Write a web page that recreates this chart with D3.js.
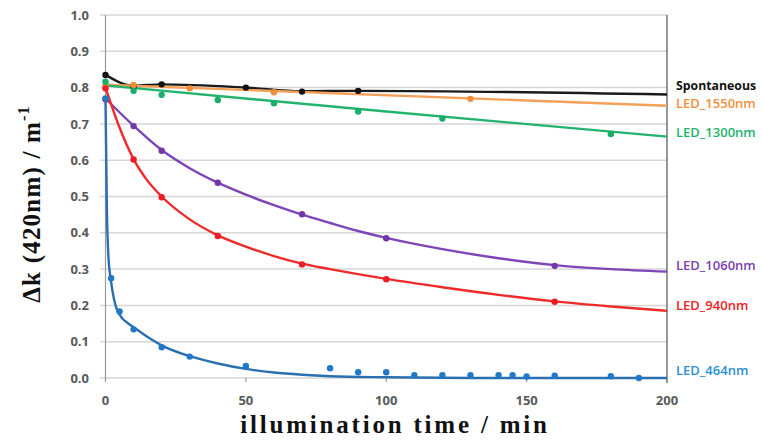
<!DOCTYPE html>
<html><head><meta charset="utf-8">
<script src="https://cdn.jsdelivr.net/npm/d3@7"></script>
<style>body{margin:0;background:#fff}svg{display:block}</style>
</head><body>
<svg id="c" width="763" height="441"></svg>
<script>
const xTicks = [0, 50, 100, 150, 200];
const yTicks = [0.0, 0.1, 0.2, 0.3, 0.4, 0.5, 0.6, 0.7, 0.8, 0.9, 1.0];

// measured points
const spontPts = [[0,0.835],[10,0.803],[20,0.809],[50,0.800],[70,0.789],[90,0.791]];
const led1550Pts = [[0,0.806],[10,0.807],[30,0.798],[60,0.787],[130,0.769]];
const led1300Pts = [[0,0.816],[10,0.791],[20,0.780],[40,0.766],[60,0.757],[90,0.734],[120,0.715],[180,0.672]];
const led1060Pts = [[0,0.768],[10,0.694],[20,0.626],[40,0.538],[70,0.451],[100,0.385],[160,0.309]];
const led940Pts = [[0,0.798],[10,0.602],[20,0.498],[40,0.391],[70,0.313],[100,0.272],[160,0.210]];
const led464Pts = [[0,0.770],[2,0.275],[5,0.183],[10,0.134],[20,0.085],[30,0.059],[50,0.033],[80,0.027],[90,0.016],[100,0.016],[110,0.008],[120,0.008],[130,0.008],[140,0.008],[145,0.008],[150,0.004],[160,0.006],[180,0.005],[190,0.0]];

// fitted curves
const spontFit = [[0,0.835],[10,0.805],[20,0.809],[50,0.800],[70,0.790],[90,0.791],[200,0.781]];
const led1550Fit = [[0,0.808],[200,0.750]];
const led1300Fit = [[0,0.806],[100,0.734],[200,0.665]];
const led1060Fit = [[0,0.770],[10,0.695],[20,0.628],[30,0.578],[40,0.538],[50,0.505],[60,0.476],[70,0.450],[80,0.427],[90,0.405],[100,0.386],[120,0.355],[140,0.330],[160,0.311],[180,0.300],[200,0.293]];
const led940Fit = [[0,0.800],[5,0.690],[10,0.603],[15,0.543],[20,0.500],[30,0.437],[40,0.393],[50,0.362],[60,0.336],[70,0.315],[80,0.300],[100,0.273],[120,0.250],[140,0.229],[160,0.211],[180,0.197],[200,0.185]];
const led464Fit = [[0,0.770],[0.5,0.46],[1,0.34],[2,0.265],[3,0.218],[4,0.190],[5,0.175],[6,0.164],[8,0.151],[10,0.140],[15,0.113],[20,0.090],[30,0.060],[40,0.040],[50,0.025],[60,0.015],[70,0.009],[80,0.005],[100,0.002],[130,0.0],[200,0.0]];

const seriesNames = ["Spontaneous","LED_1550nm","LED_1300nm","LED_1060nm","LED_940nm","LED_464nm"];
const seriesPts = [spontPts, led1550Pts, led1300Pts, led1060Pts, led940Pts, led464Pts];
const seriesFit = [spontFit, led1550Fit, led1300Fit, led1060Fit, led940Fit, led464Fit];
const ptColors = ["#111111","#ef8d3a","#1aae68","#7236a8","#ee1c25","#1f78c8"];
const lineColors = ["#1a1a1a","#f2a05a","#22b36e","#7d45b5","#ee2a2a","#2a6fb0"];
const labelColors = ["#111111","#f0913a","#1db36b","#7b3fb0","#ee2222","#2c90d2"];
const labelY = [86, 103, 132, 265, 305, 370];

const svg = d3.select("#c");
const x = d3.scaleLinear().domain([0,200]).range([105.5,667]);
const y = d3.scaleLinear().domain([0,1]).range([378,15]);

// gridlines
svg.append("g").selectAll("line").data(yTicks).join("line")
  .attr("x1", 100).attr("x2", x(200)).attr("y1", d=>y(d)).attr("y2", d=>y(d))
  .attr("stroke", "#d6d6d6").attr("stroke-width", 1.5);

// left axis line
svg.append("line").attr("x1", x(0)).attr("x2", x(0)).attr("y1", y(1)).attr("y2", y(0)+4)
  .attr("stroke", "#9a9a9a").attr("stroke-width", 1.2);
// right border
svg.append("line").attr("x1", x(200)).attr("x2", x(200)).attr("y1", y(1)).attr("y2", y(0)+5)
  .attr("stroke", "#6a6a6a").attr("stroke-width", 1.4);
// x ticks
svg.append("g").selectAll("line").data(xTicks.slice(1,4)).join("line")
  .attr("x1", d=>x(d)).attr("x2", d=>x(d)).attr("y1", y(0)).attr("y2", y(0)+4)
  .attr("stroke", "#9a9a9a").attr("stroke-width", 1.2);

// y tick labels
svg.append("g").selectAll("text").data(yTicks).join("text")
  .attr("x", 89).attr("y", d=>y(d)).attr("dy", "0.36em").attr("text-anchor","end")
  .attr("font-family","'Open Sans', 'DejaVu Sans', sans-serif").attr("font-weight","bold")
  .attr("font-size", 13).attr("fill","#595959").text(d=>d.toFixed(1));
// x tick labels
svg.append("g").selectAll("text").data(xTicks).join("text")
  .attr("x", d=>x(d)).attr("y", 405).attr("text-anchor","middle")
  .attr("font-family","'Open Sans', 'DejaVu Sans', sans-serif").attr("font-weight","bold")
  .attr("font-size", 13).attr("fill","#595959").text(d=>d);

// curves
const line = d3.line().x(d=>x(d[0])).y(d=>y(d[1])).curve(d3.curveMonotoneX);
seriesFit.forEach((f,i)=>{
  svg.append("path").datum(f).attr("d", line).attr("fill","none")
    .attr("stroke", lineColors[i]).attr("stroke-width", 2.4);
});
// points
seriesPts.forEach((p,i)=>{
  svg.append("g").selectAll("circle").data(p).join("circle")
    .attr("cx", d=>x(d[0])).attr("cy", d=>y(d[1])).attr("r", 3.2)
    .attr("fill", ptColors[i]);
});

// series labels
svg.append("g").selectAll("text").data(seriesNames).join("text")
  .attr("x", 676).attr("y", (d,i)=>labelY[i]).attr("dy","0.36em")
  .attr("font-family","'Open Sans', sans-serif").attr("font-size", (d,i)=>i===0?12.3:13)
  .attr("font-weight", (d,i)=>i===0?"bold":"600")
  .attr("fill", (d,i)=>labelColors[i]).text(d=>d);

// axis titles
svg.append("text").attr("x", 395).attr("y", 433).attr("text-anchor","middle")
  .attr("font-family","'Liberation Serif', 'Times New Roman', serif").attr("font-weight","bold")
  .attr("font-size", 25).attr("letter-spacing", 2.8).attr("fill","#111").text("illumination time / min");

const yt = svg.append("text").attr("transform","translate(40,204) rotate(-90)").attr("text-anchor","middle")
  .attr("font-family","'Liberation Serif', 'Times New Roman', serif").attr("font-weight","bold")
  .attr("font-size", 25).attr("letter-spacing", 1.2).attr("fill","#111");
yt.append("tspan").text("Δk (420nm) / m");
yt.append("tspan").attr("dy", -11).attr("font-size", 16).text("-1");
</script>
</body></html>
